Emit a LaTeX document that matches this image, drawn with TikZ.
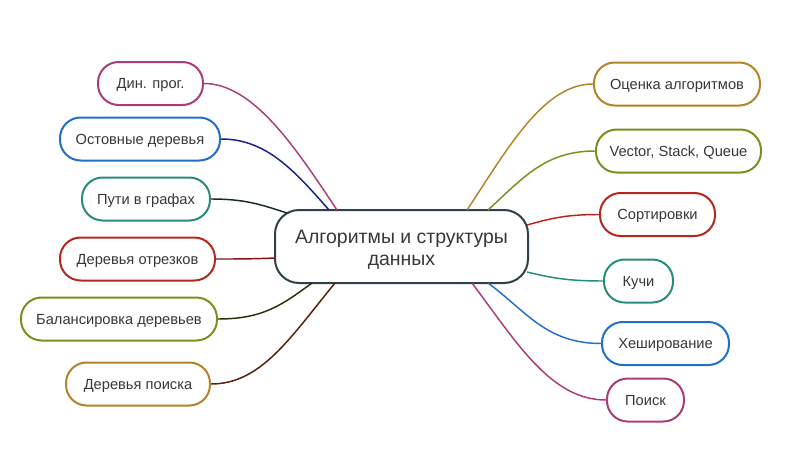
\documentclass[tikz,border=0pt]{standalone}
\usepackage{fontspec}
\setmainfont{Liberation Sans}
\definecolor{cpink}{RGB}{170,60,120}
\definecolor{cblue}{RGB}{35,110,200}
\definecolor{cdblue}{RGB}{20,30,140}
\definecolor{cteal}{RGB}{40,140,120}
\definecolor{cdteal}{RGB}{20,45,35}
\definecolor{cred}{RGB}{180,40,30}
\definecolor{cdred}{RGB}{130,20,20}
\definecolor{colive}{RGB}{120,145,30}
\definecolor{cdolive}{RGB}{35,50,10}
\definecolor{cgold}{RGB}{180,130,40}
\definecolor{cdgold}{RGB}{85,30,10}
\definecolor{ccenter}{RGB}{45,65,75}
\definecolor{ctext}{RGB}{55,55,55}
\tikzset{
  leaf/.style={draw=#1, line width=1.5pt, rounded corners=15.5pt, fill=white,
    minimum height=32.25pt, inner sep=0pt, text=ctext, text height=0.78em, text depth=0pt,
    font=\fontsize{11}{13}\selectfont},
  hub/.style={draw=ccenter, line width=1.5pt, rounded corners=18pt, fill=white,
    minimum width=189.75pt, minimum height=54.75pt, inner sep=0pt, text=ctext,
    align=center, font=\fontsize{14.6}{17}\selectfont},
  conn/.style={draw=#1, line width=1.1pt}
}
\begin{document}
\begin{tikzpicture}[x=0.75pt,y=-0.75pt]
\useasboundingbox (0,0) rectangle (800,475);
% hub
\node[hub] (c) at (401.5,246.5) {\rule{0pt}{15pt}Алгоритмы и структуры\\данных};
% left leaves
\node[leaf=cpink, minimum width=78.75pt] (dp) at (150.5,83.5) {Дин. прог.};
\node[leaf=cblue, minimum width=120pt] (ost) at (140,139) {Остовные деревья};
\node[leaf=cteal, minimum width=96pt] (put) at (146,199) {Пути в графах};
\node[leaf=cred, minimum width=116.25pt] (otr) at (137.5,259) {Деревья отрезков};
\node[leaf=colive, minimum width=147pt] (bal) at (119,319) {Балансировка деревьев};
\node[leaf=cgold, minimum width=108pt] (poi) at (138,384) {Деревья поиска};
% right leaves
\node[leaf=cgold, minimum width=124.5pt] (ocen) at (677,84) {Оценка алгоритмов};
\node[leaf=colive, minimum width=123.75pt] (vec) at (678.5,151) {Vector, Stack, Queue};
\node[leaf=cred, minimum width=86.25pt] (sort) at (657.5,214.5) {Сортировки};
\node[leaf=cteal, minimum width=51.75pt] (kuchi) at (638.5,281) {Кучи};
\node[leaf=cblue, minimum width=95.25pt] (hesh) at (665.5,343.5) {Хеширование};
\node[leaf=cpink, minimum width=57.75pt] (poisk) at (645.5,400) {Поиск};
% hub attachment points
\coordinate (a1) at (337,210);
\coordinate (a2) at (329,210);
\coordinate (a3) at (287,213);
\coordinate (a4) at (275,258);
\coordinate (a5) at (312,283);
\coordinate (a6) at (335,283);
\coordinate (b1) at (467,210);
\coordinate (b2) at (488,210);
\coordinate (b3) at (527,225);
\coordinate (b4) at (527,272);
\coordinate (b5) at (488,283);
\coordinate (b6) at (472,283);
% connectors
\draw[conn=cpink] (dp.east) .. controls +(50,0) and +(-40,-60) .. (a1);
\draw[conn=cdblue] (ost.east) .. controls +(45,0) and +(-35,-40) .. (a2);
\draw[conn=cdteal] (put.east) .. controls +(35,0) and +(-25,-8) .. (a3);
\draw[conn=cdred] (otr.east) .. controls +(25,0) and +(-25,1) .. (a4);
\draw[conn=cdolive] (bal.east) .. controls +(45,0) and +(-30,22) .. (a5);
\draw[conn=cdgold] (poi.east) .. controls +(50,0) and +(-45,55) .. (a6);
\draw[conn=cgold] (ocen.west) .. controls +(-50,0) and +(40,-60) .. (b1);
\draw[conn=colive] (vec.west) .. controls +(-50,0) and +(35,-32) .. (b2);
\draw[conn=cred] (sort.west) .. controls +(-35,0) and +(22,-6) .. (b3);
\draw[conn=cteal] (kuchi.west) .. controls +(-35,0) and +(25,6) .. (b4);
\draw[conn=cblue] (hesh.west) .. controls +(-55,0) and +(38,28) .. (b5);
\draw[conn=cpink] (poisk.west) .. controls +(-55,0) and +(45,60) .. (b6);
\end{tikzpicture}
\end{document}
